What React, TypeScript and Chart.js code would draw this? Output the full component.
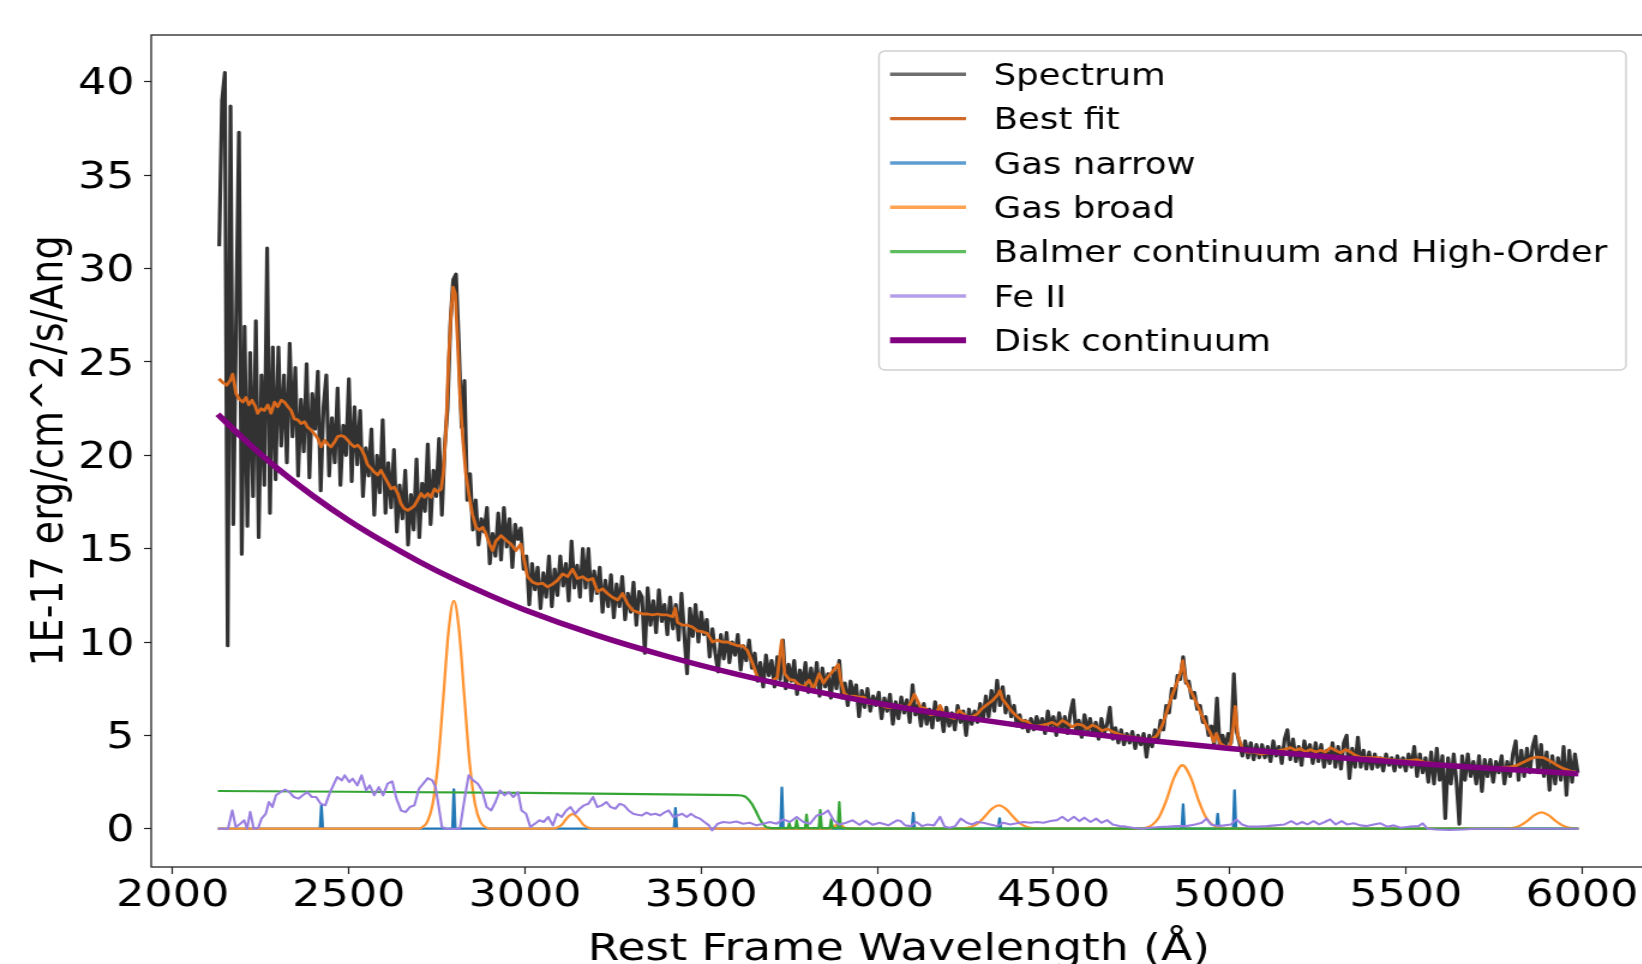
import React, { useEffect, useRef } from 'react';
import { Chart, registerables } from 'chart.js';

Chart.register(...registerables);

// ---------------- data ----------------
const X_TICKS = [2000, 2500, 3000, 3500, 4000, 4500, 5000, 5500, 6000];
const Y_TICKS = [0, 5, 10, 15, 20, 25, 30, 35, 40];
const X_MIN = 1939;
const X_MAX = 6183;
const Y_MIN = -2.05;
const Y_MAX = 42.51;

const LABELS = [
  'Spectrum',
  'Best fit',
  'Gas narrow',
  'Gas broad',
  'Balmer continuum and High-Order',
  'Fe II',
  'Disk continuum',
];

// observed spectrum on an 8 Angstrom grid starting at 2132
const SPEC_START = 2132;
const SPEC_STEP = 8;
const SPEC_FLUX = [
  31.2, 39.0, 40.5, 9.8, 38.7, 16.3, 27.2, 37.3, 14.7, 26.9,
  16.2, 25.5, 17.8, 27.2, 15.6, 24.3, 18.4, 31.1, 16.9, 25.8,
  18.7, 25.8, 20.5, 24.3, 19.6, 26.0, 21.0, 24.7, 18.9, 23.0,
  20.2, 24.9, 18.8, 23.3, 21.4, 24.5, 18.1, 22.6, 24.3, 18.9,
  22.0, 19.6, 23.6, 18.4, 21.6, 20.0, 24.1, 18.6, 22.6, 19.5,
  22.4, 17.8, 20.4, 18.9, 21.4, 16.8, 20.0, 18.0, 21.9, 16.9,
  19.6, 17.2, 20.3, 15.9, 18.4, 16.6, 19.2, 15.2, 17.9, 16.0,
  19.8, 15.6, 18.5, 17.0, 20.6, 16.3, 19.2, 17.8, 20.9, 16.8,
  20.5, 22.5, 27.0, 29.4, 29.7, 26.0, 21.5, 24.0, 17.6, 19.0,
  16.0, 17.6, 15.2, 16.6, 15.9, 17.2, 14.2, 15.8, 14.6, 16.9,
  14.4, 17.2, 15.1, 16.6, 14.0, 16.3, 15.5, 16.1, 13.9, 14.6,
  12.0, 14.2, 12.8, 14.0, 11.8, 13.7, 12.4, 14.6, 11.9, 13.9,
  12.5, 14.6, 13.0, 14.2, 12.2, 15.4, 12.9, 14.1, 12.4, 15.0,
  12.9, 15.0, 12.2, 13.8, 12.6, 14.0, 11.6, 13.3, 11.9, 13.6,
  11.3, 13.1, 11.9, 13.5, 11.2, 12.6, 11.6, 13.2, 10.9, 12.7,
  12.4, 9.4, 12.9, 10.9, 12.2, 10.5, 12.8, 11.1, 12.0, 10.4,
  12.4, 10.7, 12.0, 10.1, 12.6, 10.4, 8.3, 11.8, 10.3, 12.0,
  10.0, 11.6, 10.4, 11.2, 9.2, 10.7, 9.4, 8.4, 10.4, 9.1,
  10.5, 8.9, 10.0, 9.3, 10.4, 8.5, 9.8, 9.0, 10.1, 8.6,
  9.4, 7.9, 8.9, 7.6, 9.3, 8.2, 9.0, 7.6, 9.2, 8.0,
  10.1, 7.5, 8.8, 7.9, 9.0, 7.2, 8.5, 7.7, 8.9, 7.3,
  8.6, 7.4, 8.9, 7.1, 8.6, 7.6, 8.3, 7.0, 8.6, 7.5,
  9.0, 7.0, 7.8, 6.6, 7.9, 7.1, 7.7, 6.0, 7.4, 6.5,
  7.5, 6.3, 7.1, 6.6, 7.3, 5.9, 7.0, 6.3, 7.2, 5.6,
  6.8, 5.9, 7.05, 6.2, 6.9, 5.7, 7.7, 6.1, 6.6, 5.5,
  6.7, 5.6, 6.4, 5.4, 6.8, 5.8, 6.3, 5.2, 6.5, 5.5,
  6.2, 5.3, 6.6, 5.7, 6.3, 5.0, 6.4, 5.6, 6.3, 5.7,
  6.7, 5.8, 7.1, 6.0, 7.4, 6.3, 7.95, 6.6, 7.6, 6.2,
  7.1, 6.0, 6.6, 5.5, 6.1, 5.4, 5.8, 5.2, 5.9, 5.3,
  6.0, 5.4, 5.9, 5.1, 6.3, 5.5, 6.0, 5.0, 6.2, 5.3,
  6.0, 5.1, 6.2, 6.9, 5.2, 5.8, 4.9, 6.1, 5.2, 5.9,
  5.0, 5.7, 4.8, 5.9, 5.1, 5.6, 6.5, 4.8, 5.4, 4.6,
  5.3, 4.5, 5.1, 4.6, 5.2, 4.3, 5.0, 4.5, 5.1, 3.84,
  5.0, 4.4, 5.3, 4.7, 5.8, 5.3, 6.6, 6.2, 7.5, 7.0,
  8.2, 8.0, 9.2, 7.8, 7.9, 7.0, 7.3, 6.4, 6.6, 5.7,
  6.0, 5.0, 5.5, 4.5, 7.0, 4.4, 5.0, 4.3, 5.1, 4.6,
  8.3, 5.2, 4.6, 3.9, 4.7, 3.8, 4.6, 3.7, 4.5, 3.8,
  4.5, 3.8, 4.4, 3.6, 4.7, 3.9, 4.4, 3.5, 4.8, 5.3,
  3.7, 4.8, 3.6, 4.4, 3.4, 4.7, 3.9, 4.5, 3.5, 4.6,
  3.6, 4.5, 3.3, 4.2, 3.5, 4.6, 3.3, 4.4, 3.2, 4.6,
  5.0, 2.7, 4.3, 3.3, 4.9, 3.3, 4.2, 3.2, 4.1, 3.2,
  4.0, 3.3, 3.8, 3.1, 4.0, 3.4, 3.8, 3.1, 3.9, 3.3,
  3.8, 3.1, 4.0, 3.3, 4.4, 2.8, 4.0, 3.0, 3.8, 2.5,
  4.1, 2.4, 4.3, 2.6, 3.9, 0.55, 3.8, 2.4, 4.0, 2.5,
  0.25, 3.9, 2.6, 4.0, 2.8, 3.6, 2.4, 3.9, 2.0, 3.7,
  2.8, 3.7, 2.5, 3.6, 3.0, 3.9, 2.4, 3.6, 2.8, 4.0,
  4.7, 2.6, 4.2, 2.8, 4.3, 3.0, 4.4, 4.95, 3.0, 4.5,
  2.8, 4.1, 2.06, 3.9, 2.4, 3.8, 2.6, 4.4, 1.8, 4.2,
  2.5, 4.0, 3.0,
];

const FIT_WAVE = [
  2131, 2142, 2153, 2163, 2170, 2180, 2189, 2199, 2208, 2216,
  2225, 2235, 2241, 2251, 2260, 2270, 2279, 2289, 2298, 2308,
  2317, 2327, 2336, 2345, 2355, 2364, 2374, 2383, 2393, 2402,
  2412, 2421, 2431, 2440, 2449, 2459, 2468, 2478, 2487, 2497,
  2506, 2516, 2525, 2535, 2544, 2553, 2563, 2572, 2582, 2591,
  2601, 2610, 2620, 2629, 2639, 2648, 2657, 2667, 2676, 2686,
  2695, 2705, 2714, 2724, 2733, 2743, 2752, 2762, 2768, 2776,
  2783, 2790, 2796, 2802, 2809, 2815, 2823, 2832, 2842, 2851,
  2861, 2870, 2880, 2889, 2899, 2908, 2917, 2932, 2946, 2960,
  2974, 2988, 2998, 3007, 3022, 3036, 3050, 3064, 3078, 3092,
  3107, 3121, 3135, 3149, 3163, 3178, 3192, 3206, 3220, 3234,
  3248, 3263, 3277, 3291, 3305, 3319, 3334, 3348, 3362, 3376,
  3390, 3404, 3419, 3426, 3433, 3447, 3461, 3475, 3489, 3504,
  3518, 3532, 3546, 3560, 3575, 3589, 3603, 3617, 3631, 3646,
  3660, 3674, 3688, 3702, 3716, 3724, 3729, 3737, 3750, 3764,
  3778, 3792, 3806, 3819, 3835, 3847, 3858, 3872, 3889, 3896,
  3906, 3920, 3934, 3948, 3962, 3977, 3991, 4005, 4019, 4029,
  4047, 4066, 4085, 4099, 4105, 4123, 4137, 4151, 4166, 4178,
  4189, 4203, 4218, 4232, 4244, 4255, 4270, 4284, 4298, 4312,
  4326, 4341, 4348, 4355, 4369, 4383, 4397, 4411, 4426, 4440,
  4454, 4468, 4482, 4497, 4511, 4525, 4539, 4553, 4567, 4582,
  4596, 4610, 4624, 4638, 4653, 4667, 4681, 4695, 4709, 4724,
  4738, 4752, 4766, 4780, 4794, 4809, 4823, 4837, 4851, 4861,
  4867, 4875, 4889, 4903, 4917, 4932, 4946, 4955, 4962, 4974,
  4988, 5002, 5010, 5016, 5023, 5036, 5050, 5069, 5087, 5106,
  5125, 5144, 5154, 5173, 5187, 5201, 5215, 5229, 5244, 5258,
  5272, 5286, 5300, 5315, 5329, 5343, 5357, 5371, 5386, 5400,
  5419, 5437, 5456, 5475, 5494, 5513, 5532, 5551, 5570, 5608,
  5646, 5683, 5721, 5759, 5797, 5816, 5835, 5854, 5872, 5891,
  5910, 5929, 5948, 5967, 5981,
];
const FIT_FLUX = [
  24.1, 23.9, 23.75, 24.0, 24.35, 23.3, 23.0, 22.85, 23.1, 22.7,
  22.95, 22.6, 22.25, 22.5, 22.4, 22.7, 22.25, 22.85, 22.6, 22.95,
  22.85, 22.6, 22.4, 21.95, 21.9, 21.7, 21.8, 21.5, 21.35, 21.15,
  20.9, 20.45, 20.8, 20.6, 20.45, 20.7, 21.0, 21.05, 21.0, 20.8,
  20.6, 20.45, 20.55, 20.35, 20.0, 19.5, 19.3, 19.1, 18.95, 19.2,
  18.85, 18.55, 18.2, 18.3, 17.95, 17.4, 17.15, 17.05, 17.15, 17.3,
  17.6, 17.95, 17.75, 17.95, 17.75, 18.2, 18.05, 18.2, 19.0, 21.5,
  25.1, 27.6, 29.0, 28.65, 26.0, 23.3, 21.0, 19.0, 17.75, 16.8,
  16.15, 16.0, 16.15, 15.8, 15.25, 14.9, 15.4, 15.7, 15.45, 15.25,
  14.9, 15.25, 14.35, 13.5, 13.2, 13.1, 13.15, 12.95, 13.1, 13.3,
  13.65, 13.5, 13.9, 13.4, 13.5, 13.3, 13.4, 12.7, 12.85, 12.6,
  12.4, 12.25, 12.6, 12.05, 11.7, 11.6, 11.5, 11.5, 11.45, 11.5,
  11.45, 11.45, 11.35, 11.8, 11.05, 10.9, 10.9, 10.8, 10.6, 10.55,
  10.45, 10.0, 10.1, 10.0, 10.0, 9.9, 9.8, 9.8, 9.55, 8.85,
  8.1, 8.0, 7.95, 7.95, 8.1, 9.4, 10.1, 8.3, 8.0, 7.95,
  7.7, 7.6, 7.95, 7.5, 8.3, 7.8, 8.1, 8.4, 8.8, 7.95,
  7.25, 7.05, 7.1, 7.05, 7.05, 6.7, 6.8, 6.7, 6.55, 6.5,
  6.5, 6.6, 6.45, 6.9, 7.2, 6.5, 6.45, 6.1, 6.15, 6.6,
  6.15, 6.0, 5.9, 6.35, 6.15, 6.0, 6.0, 6.15, 6.45, 6.65,
  6.85, 7.15, 7.4, 6.95, 6.6, 6.25, 6.0, 5.8, 5.75, 5.5,
  5.5, 5.55, 5.6, 5.7, 5.55, 5.8, 5.65, 5.45, 5.6, 5.55,
  5.35, 5.55, 5.45, 5.25, 5.35, 5.2, 5.1, 5.0, 4.95, 4.9,
  4.85, 4.85, 4.75, 4.8, 5.0, 5.55, 6.35, 7.15, 7.85, 8.4,
  9.0, 7.95, 7.4, 6.85, 6.25, 5.6, 5.1, 4.65, 5.1, 4.55,
  4.4, 4.45, 5.45, 6.55, 5.0, 4.3, 4.1, 4.1, 4.0, 4.05,
  4.1, 4.2, 4.24, 4.34, 4.2, 4.29, 4.11, 4.24, 4.11, 4.2,
  4.11, 4.34, 4.2, 4.06, 4.24, 4.11, 3.93, 3.84, 3.81, 3.81,
  3.81, 3.75, 3.7, 3.66, 3.63, 3.66, 3.7, 3.57, 3.52, 3.45,
  3.4, 3.34, 3.31, 3.27, 3.31, 3.4, 3.57, 3.75, 3.84, 3.81,
  3.63, 3.4, 3.22, 3.09, 3.04,
];

const NARROW_WAVE = [
  2128, 2418, 2422, 2426, 2794, 2798, 2802, 3423, 3427, 3431,
  3725, 3729, 3733, 4098, 4102, 4106, 4343, 4347, 4351, 4864,
  4868, 4872, 4962, 4966, 4970, 5010, 5014, 5018, 5990,
];
const NARROW_FLUX = [
  0, 0, 1.25, 0, 0, 2.1, 0, 0, 1.1, 0,
  0, 2.2, 0, 0, 0.85, 0, 0, 0.55, 0, 0,
  1.3, 0, 0, 0.8, 0, 0, 2.05, 0, 0,
];

const BROAD_WAVE = [
  2128, 2700, 2708, 2723, 2738, 2753, 2768, 2783, 2798, 2813,
  2828, 2843, 2858, 2873, 2888, 2900, 3080, 3090, 3105, 3120,
  3135, 3150, 3165, 3180, 3190, 3865, 3878, 3890, 3902, 3915,
  4235, 4245, 4265, 4285, 4305, 4325, 4345, 4365, 4385, 4405,
  4425, 4445, 4455, 4750, 4760, 4780, 4800, 4820, 4842, 4866,
  4890, 4912, 4932, 4952, 4972, 4990, 5775, 5785, 5805, 5825,
  5845, 5865, 5885, 5905, 5925, 5945, 5965, 5985, 5990,
];
const BROAD_FLUX = [
  0, 0, 0.08, 0.38, 1.33, 3.5, 7.0, 10.6, 12.2, 10.6,
  7.0, 3.5, 1.33, 0.38, 0.08, 0, 0, 0.05, 0.23, 0.59,
  0.8, 0.59, 0.23, 0.05, 0, 0, 0.12, 0.3, 0.12, 0,
  0, 0.02, 0.09, 0.29, 0.65, 1.06, 1.25, 1.06, 0.65, 0.29,
  0.09, 0.02, 0, 0, 0.04, 0.2, 0.63, 1.5, 2.72, 3.4,
  2.72, 1.5, 0.63, 0.2, 0.04, 0, 0, 0.01, 0.05, 0.17,
  0.42, 0.73, 0.88, 0.73, 0.42, 0.17, 0.05, 0.01, 0,
];

const BALMER_WAVE = [
  2128, 2500, 3000, 3400, 3600, 3615, 3625, 3635, 3645, 3655,
  3665, 3675, 3685, 3700, 3746, 3750, 3754, 3767, 3771, 3775,
  3795, 3799, 3803, 3834, 3838, 3842, 3865, 3869, 3873, 3888,
  3892, 3896, 3930, 5990,
];
const BALMER_FLUX = [
  2.02, 1.98, 1.92, 1.84, 1.8, 1.78, 1.72, 1.55, 1.3, 0.95,
  0.55, 0.25, 0.08, 0.03, 0.03, 0.3, 0.03, 0.03, 0.45, 0.03,
  0.03, 0.75, 0.03, 0.03, 1.0, 0.03, 0.03, 0.5, 0.03, 0.03,
  1.42, 0.03, 0.01, 0,
];

const FE_WAVE = [
  2129, 2157, 2169, 2179, 2192, 2203, 2211, 2220, 2230, 2243,
  2252, 2264, 2273, 2283, 2293, 2306, 2319, 2331, 2344, 2357,
  2369, 2382, 2395, 2407, 2420, 2433, 2445, 2458, 2467, 2480,
  2488, 2501, 2511, 2524, 2536, 2549, 2559, 2572, 2585, 2597,
  2610, 2623, 2635, 2648, 2661, 2673, 2686, 2699, 2711, 2724,
  2737, 2746, 2756, 2764, 2777, 2790, 2815, 2830, 2840, 2853,
  2866, 2878, 2891, 2904, 2916, 2929, 2942, 2954, 2967, 2980,
  2990, 3003, 3015, 3028, 3041, 3053, 3066, 3079, 3091, 3104,
  3117, 3129, 3142, 3155, 3167, 3180, 3193, 3205, 3218, 3231,
  3243, 3256, 3269, 3281, 3294, 3307, 3319, 3332, 3345, 3357,
  3370, 3383, 3395, 3408, 3421, 3433, 3446, 3459, 3471, 3484,
  3497, 3509, 3522, 3531, 3547, 3562, 3581, 3600, 3619, 3638,
  3657, 3676, 3695, 3714, 3733, 3752, 3771, 3790, 3809, 3828,
  3847, 3860, 3876, 3892, 3911, 3930, 3949, 3968, 3987, 4006,
  4031, 4056, 4066, 4079, 4094, 4111, 4127, 4142, 4161, 4178,
  4191, 4206, 4221, 4237, 4254, 4269, 4284, 4301, 4320, 4339,
  4358, 4377, 4396, 4415, 4434, 4453, 4472, 4491, 4510, 4525,
  4541, 4558, 4573, 4588, 4605, 4621, 4636, 4652, 4668, 4687,
  4706, 4725, 4750, 4776, 4801, 4826, 4852, 4877, 4902, 4921,
  4934, 4947, 4966, 4985, 5004, 5019, 5035, 5054, 5080, 5105,
  5130, 5156, 5175, 5191, 5206, 5221, 5238, 5254, 5270, 5285,
  5301, 5318, 5333, 5352, 5371, 5390, 5409, 5428, 5447, 5466,
  5485, 5510, 5536, 5548, 5561, 5586, 5624, 5662, 5700, 5751,
  5840, 5990,
];
const FE_FLUX = [
  0, 0, 0.98, 0.09, 0.27, 0.45, 0, 0.9, 0, 0.05,
  0.54, 0.8, 1.43, 1.16, 1.79, 1.96, 2.1, 1.96, 1.7, 1.61,
  1.79, 1.96, 1.7, 1.7, 1.34, 1.25, 1.88, 2.41, 2.77, 2.59,
  2.86, 2.5, 2.68, 2.32, 2.86, 2.05, 2.32, 1.79, 2.23, 1.79,
  2.41, 2.54, 1.61, 0.98, 0.89, 1.16, 1.25, 2.14, 2.41, 2.71,
  2.59, 2.23, 1.07, 0.09, 0, 0, 0, 1.79, 2.86, 2.59,
  2.41, 2.05, 1.16, 0.98, 1.43, 2.05, 1.79, 1.96, 1.7, 1.96,
  0.98, 0.8, 0.09, 0.27, 0.45, 0.36, 0.63, 0.18, 0.8, 0.63,
  0.98, 1.16, 0.8, 1.07, 1.25, 1.34, 1.7, 1.16, 1.25, 1.43,
  1.16, 1.07, 1.34, 1.25, 0.98, 0.8, 0.75, 0.71, 0.86, 0.75,
  0.8, 0.71, 0.86, 0.98, 0.63, 0.71, 0.8, 0.63, 0.8, 0.63,
  0.54, 0.36, 0.18, -0.09, 0.27, 0.36, 0.32, 0.39, 0.27, 0.32,
  0.18, 0.27, 0.36, 0.27, 0.5, 0.36, 0.63, 0.36, 0.27, 0.71,
  0.8, 0.98, 0.45, 0.21, 0.32, 0.45, 0.21, 0.43, 0.21, 0.32,
  0.18, 0.45, 0.41, 0.18, 0.14, 0.36, 0.14, 0.23, 0.18, 0.64,
  0.11, 0.05, 0.14, 0.54, 0.32, 0.23, 0.36, 0.32, 0.23, 0.14,
  0.32, 0.23, 0.29, 0.36, 0.32, 0.36, 0.32, 0.41, 0.46, 0.64,
  0.41, 0.64, 0.41, 0.59, 0.36, 0.54, 0.32, 0.46, 0.23, 0.14,
  0.11, 0.05, 0, 0.05, 0.09, 0.11, 0.14, 0.14, 0.23, 0.32,
  0.54, 0.23, 0.14, 0.18, 0.23, 0.5, 0.23, 0.11, 0.11, 0.14,
  0.18, 0.23, 0.41, 0.23, 0.36, 0.23, 0.41, 0.23, 0.36, 0.5,
  0.23, 0.41, 0.23, 0.29, 0.18, 0.14, 0.23, 0.29, 0.11, 0.18,
  0.05, 0.11, 0.14, 0.29, 0, -0.04, -0.07, -0.04, 0, 0,
  0, 0,
];

const DISK_WAVE = [
  2128, 2200, 2300, 2400, 2500, 2600, 2700, 2800, 2900, 3000,
  3200, 3400, 3600, 3800, 4000, 4250, 4500, 4750, 5000, 5250,
  5500, 5750, 5990,
];
const DISK_FLUX = [
  22.2, 20.9, 19.25, 17.8, 16.5, 15.35, 14.3, 13.35, 12.5, 11.72,
  10.38, 9.25, 8.28, 7.45, 6.72, 5.95, 5.3, 4.77, 4.3, 3.9,
  3.53, 3.22, 2.95,
];

// ---------------- layout / style ----------------
const CANVAS_W = 1400;
const CANVAS_H = 964;
const STRETCH = 1.2; // horizontal stretch of the picture
const FONT = 'DejaVu Sans';

const zip = (xs: number[], ys: number[]) =>
  xs.slice(0, Math.min(xs.length, ys.length)).map((x, i) => ({ x, y: ys[i] }));

const framePlugin = {
  id: 'mplFrame',
  afterDatasetsDraw(chart: any) {
    const { ctx, chartArea } = chart;
    ctx.save();
    ctx.strokeStyle = '#222222';
    ctx.lineWidth = 1.3;
    ctx.strokeRect(chartArea.left, chartArea.top, chartArea.right - chartArea.left, chartArea.bottom - chartArea.top);
    ctx.restore();
  },
};

const legendPlugin = {
  id: 'mplLegend',
  afterDraw(chart: any) {
    const ctx = chart.ctx;
    const boxX = 732.5, boxY = 51, boxW = 622.5, boxH = 319;
    const rowY0 = 74.3, rowDy = 44.33;
    const hx0 = 741.7, hx1 = 805, tx = 828;
    ctx.save();
    ctx.beginPath();
    if (ctx.roundRect) ctx.roundRect(boxX, boxY, boxW, boxH, 5);
    else ctx.rect(boxX, boxY, boxW, boxH);
    ctx.fillStyle = 'rgba(255,255,255,0.85)';
    ctx.fill();
    ctx.strokeStyle = '#cfcfcf';
    ctx.lineWidth = 1.4;
    ctx.stroke();
    chart.data.datasets.forEach((ds: any, i: number) => {
      const y = rowY0 + i * rowDy;
      ctx.beginPath();
      ctx.moveTo(hx0, y);
      ctx.lineTo(hx1, y);
      ctx.strokeStyle = ds.legendColor || ds.borderColor;
      ctx.lineWidth = ds.legendWidth || 3;
      ctx.lineCap = 'butt';
      ctx.stroke();
      ctx.fillStyle = '#000000';
      ctx.font = `29.6px "${FONT}"`;
      ctx.textAlign = 'left';
      ctx.textBaseline = 'alphabetic';
      ctx.fillText(ds.label, tx, y + 10.8);
    });
    ctx.restore();
  },
};

export default function App() {
  const canvasRef = useRef<HTMLCanvasElement | null>(null);

  useEffect(() => {
    const canvas = canvasRef.current;
    if (!canvas) return;

    const specPts = SPEC_FLUX.map((y, i) => ({ x: SPEC_START + i * SPEC_STEP, y }));

    const common = { pointRadius: 0, borderJoinStyle: 'round', fill: false, tension: 0 };

    const datasets: any[] = [
      { ...common, label: LABELS[0], data: specPts, borderColor: '#323232', borderWidth: 3.2, order: 6, legendColor: '#6e6e6e', legendWidth: 3.4 },
      { ...common, label: LABELS[1], data: zip(FIT_WAVE, FIT_FLUX), borderColor: '#d8681c', borderWidth: 2.8, order: 5, legendColor: '#d0692a', legendWidth: 3.4 },
      { ...common, label: LABELS[2], data: zip(NARROW_WAVE, NARROW_FLUX), borderColor: '#2277b5', borderWidth: 2.3, order: 4, legendColor: '#5d9dd0', legendWidth: 3.4 },
      { ...common, label: LABELS[3], data: zip(BROAD_WAVE, BROAD_FLUX), borderColor: '#ff9433', borderWidth: 2.3, order: 3, cubicInterpolationMode: 'monotone', legendColor: '#ffa352', legendWidth: 3.4 },
      { ...common, label: LABELS[4], data: zip(BALMER_WAVE, BALMER_FLUX), borderColor: '#34a534', borderWidth: 2.2, order: 2, legendColor: '#5fbd5f', legendWidth: 3.4 },
      { ...common, label: LABELS[5], data: zip(FE_WAVE, FE_FLUX), borderColor: '#9a7fe0', borderWidth: 2.1, order: 1, legendColor: '#b39fe9', legendWidth: 3.4 },
      { ...common, label: LABELS[6], data: zip(DISK_WAVE, DISK_FLUX), borderColor: '#800080', borderWidth: 5.5, order: 0, cubicInterpolationMode: 'monotone', legendColor: '#800080', legendWidth: 6 },
    ];

    const tickFont = { family: FONT, size: 37, lineHeight: 1 };

    const chart = new Chart(canvas, {
      type: 'line',
      data: { datasets },
      options: {
        animation: false,
        responsive: false,
        devicePixelRatio: 1,
        events: [],
        normalized: true,
        layout: { padding: { left: 0, top: 35, right: 28, bottom: 0 } },
        plugins: { legend: { display: false }, tooltip: { enabled: false }, title: { display: false } },
        scales: {
          x: {
            type: 'linear',
            min: X_MIN,
            max: X_MAX,
            afterBuildTicks: (s: any) => { s.ticks = X_TICKS.map((v) => ({ value: v })); },
            afterFit: (s: any) => { s.height = 97; },
            ticks: { font: tickFont, color: '#000000', padding: 4, autoSkip: false, maxRotation: 0, callback: (v: any) => String(v) },
            grid: { display: true, drawOnChartArea: false, drawTicks: true, tickLength: 7, tickWidth: 1.2, tickColor: '#222222' },
            border: { display: false },
            title: { display: true, text: 'Rest Frame Wavelength (Å)', color: '#000000', font: { family: FONT, size: 38, lineHeight: 0.74 }, padding: { top: 0, bottom: 0 } },
          },
          y: {
            type: 'linear',
            min: Y_MIN,
            max: Y_MAX,
            afterBuildTicks: (s: any) => { s.ticks = Y_TICKS.map((v) => ({ value: v })); },
            afterFit: (s: any) => { s.width = 126; },
            ticks: { font: tickFont, color: '#000000', padding: 8, labelOffset: 3, autoSkip: false, callback: (v: any) => String(v) },
            grid: { display: true, drawOnChartArea: false, drawTicks: true, tickLength: 6, tickWidth: 1.2, tickColor: '#222222' },
            border: { display: false },
            title: { display: true, text: '1E-17 erg/cm^2/s/Ang', color: '#000000', font: { family: FONT, size: 38, lineHeight: 1 }, padding: { top: 23, bottom: 0 } },
          },
        },
      } as any,
      plugins: [framePlugin, legendPlugin],
    });

    return () => chart.destroy();
  }, []);

  return (
    <div style={{ position: 'fixed', left: 0, top: 0, width: '100vw', height: '100vh', overflow: 'hidden', background: '#ffffff' }}>
      <canvas
        ref={canvasRef}
        width={CANVAS_W}
        height={CANVAS_H}
        style={{ display: 'block', width: `${CANVAS_W * STRETCH}px`, height: `${CANVAS_H}px` }}
      />
    </div>
  );
}
